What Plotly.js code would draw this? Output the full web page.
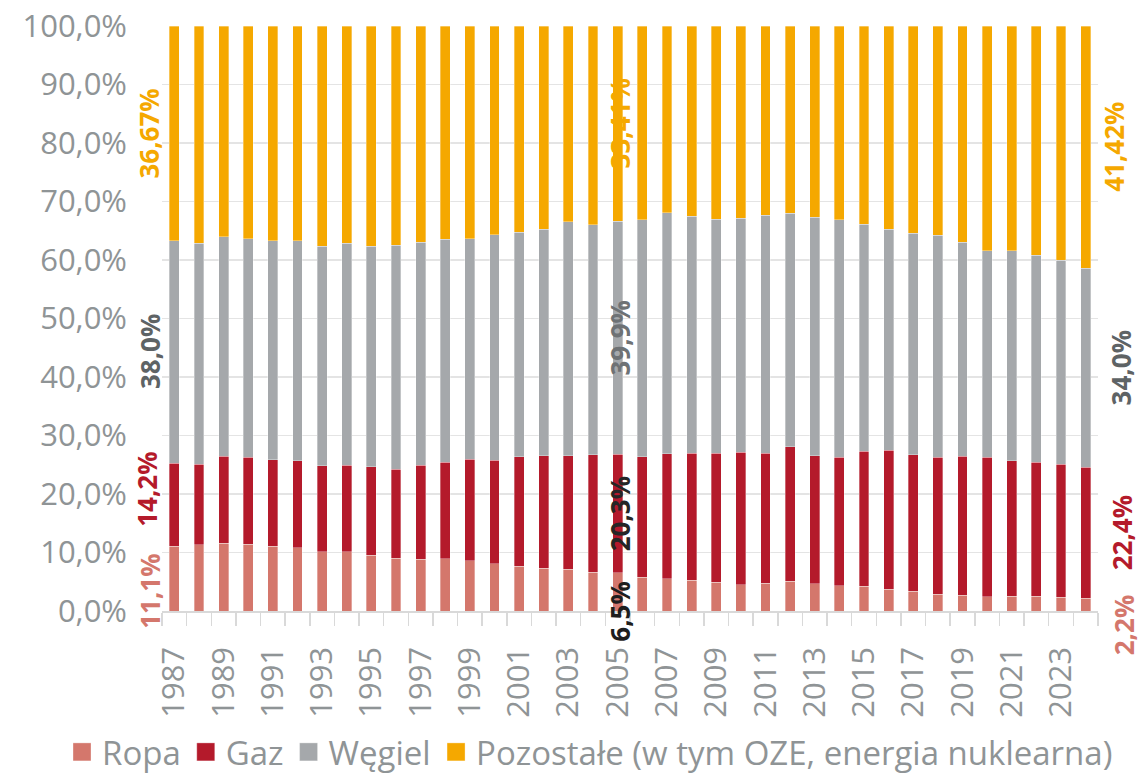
<!DOCTYPE html>
<html>
<head>
<meta charset="utf-8">
<script src="https://cdn.plot.ly/plotly-3.0.1.min.js"></script>
<style>
html,body{margin:0;padding:0;background:#fff;}
#chart{width:1140px;height:776px;}
</style>
</head>
<body>
<div id="chart"></div>
<script>
// ---- data ----
const years = [1987,1988,1989,1990,1991,1992,1993,1994,1995,1996,1997,1998,1999,2000,2001,2002,2003,2004,2005,2006,2007,2008,2009,2010,2011,2012,2013,2014,2015,2016,2017,2018,2019,2020,2021,2022,2023,2024];
const ropa = [11.1,11.35,11.6,11.45,11.05,10.85,10.15,10.15,9.5,9.05,8.85,8.95,8.55,8.05,7.65,7.35,7.15,6.65,6.5,5.75,5.55,5.25,4.95,4.45,4.75,5.05,4.65,4.35,4.25,3.75,3.35,2.85,2.7,2.45,2.55,2.55,2.35,2.2];
const gaz = [14.2,13.75,14.85,14.85,14.8,14.8,14.7,14.8,15.15,15.2,16.1,16.5,17.4,17.7,18.7,19.2,19.4,20.05,20.3,20.6,21.3,21.7,22.0,22.7,22.2,23.0,21.9,21.95,23.1,23.75,23.35,23.45,23.75,23.85,23.1,22.9,22.7,22.4];
const wegiel = [38.03,37.75,37.5,37.35,37.4,37.65,37.5,37.9,37.7,38.3,38.1,38.1,37.7,38.6,38.4,38.7,40.0,39.35,39.79,40.5,41.2,40.5,40.05,40.0,40.7,39.9,40.8,40.55,38.8,37.8,37.9,37.9,36.55,35.25,35.9,35.35,34.9,33.98];
const pozostale = [36.67,37.15,36.05,36.35,36.75,36.7,37.65,37.15,37.65,37.45,36.95,36.45,36.35,35.65,35.25,34.75,33.45,33.95,33.41,33.15,31.95,32.55,33.0,32.85,32.35,32.05,32.65,33.15,33.85,34.7,35.4,35.8,37.0,38.45,38.45,39.2,40.05,41.42];

const seriesNames = ['Ropa','Gaz','Węgiel','Pozostałe (w tym OZE, energia nuklearna)'];
const tickYears = [1987,1989,1991,1993,1995,1997,1999,2001,2003,2005,2007,2009,2011,2013,2015,2017,2019,2021,2023];

// data labels shown for selected years
const labelYears = [1987, 2005, 2024];
const ropaLabels = ['11,1%','6,5%','2,2%'];
const gazLabels = ['14,2%','20,3%','22,4%'];
const wegielLabels = ['38,0%','39,9%','34,0%'];
const pozostaleLabels = ['36,67%','33,41%','41,42%'];

// ---- styles ----
const colors = ['#D4776C','#B41A2B','#A5A8AB','#F5A800'];
const legendIds = ['legend','legend','legend','legend2'];
const tickGray = '#8F9496';
const FONT = 'Open Sans, sans-serif';

const allSeries = [ropa, gaz, wegiel, pozostale];
const traces = allSeries.map((vals, i) => ({
  type: 'bar',
  x: years,
  y: vals,
  name: seriesNames[i],
  legend: legendIds[i],
  marker: {color: colors[i], line: {color: 'rgba(255,255,255,0.55)', width: 0.6}},
  hoverinfo: 'x+y+name'
}));

// label styling per year-column: xshift and colours
const colXshift = [-25, 2, 36];
const labelColors = [
  ['#D4776C','#1E1E1E','#D4776C'],   // ropa
  ['#B41A2B','#262626','#B41A2B'],   // gaz
  ['#5E6365','#6E7275','#5E6365'],   // wegiel
  ['#F5A800','#F5A800','#F5A800']    // pozostale
];
const labelYshift = [
  [-13,-19,-20],
  [15,0,0],
  [0,0,0],
  [0,0,0]
];
const labelXextra = [
  [0,0,2],
  [-3,0,0],
  [0,0,-1],
  [0,0,-8]
];
const allLabels = [ropaLabels, gazLabels, wegielLabels, pozostaleLabels];

const annotations = [];
labelYears.forEach((yr, j) => {
  const idx = years.indexOf(yr);
  let base = 0;
  allSeries.forEach((vals, s) => {
    const mid = base + vals[idx] / 2;
    base += vals[idx];
    annotations.push({
      x: yr, y: mid, xref: 'x', yref: 'y',
      text: '<b>' + allLabels[s][j] + '</b>',
      showarrow: false, textangle: -90,
      xanchor: 'center', yanchor: 'middle',
      xshift: colXshift[j] + labelXextra[s][j],
      yshift: labelYshift[s][j],
      font: {family: FONT, size: 26, color: labelColors[s][j]}
    });
  });
});

const legendCommon = {
  orientation: 'h', xref: 'container', yref: 'container',
  xanchor: 'left', y: 0.031, yanchor: 'middle',
  bgcolor: 'rgba(0,0,0,0)',
  font: {family: FONT, size: 33, color: tickGray},
  itemwidth: 30, tracegroupgap: 0, traceorder: 'normal'
};

const layout = {
  width: 1140, height: 776,
  paper_bgcolor: '#ffffff', plot_bgcolor: '#ffffff',
  margin: {l: 162, r: 42, t: 26, b: 165},
  barmode: 'stack',
  bargap: 0.6,
  separators: ', ',
  font: {family: FONT, color: tickGray},
  showlegend: true,
  legend: Object.assign({}, legendCommon, {x: 0.0544}),
  legend2: Object.assign({}, legendCommon, {x: 0.3825}),
  xaxis: {
    type: 'linear',
    range: [1986.5, 2024.5],
    tickmode: 'array', tickvals: tickYears, ticktext: tickYears.map(String),
    tickangle: -90,
    ticks: '',
    ticklabelstandoff: 22,
    tickfont: {family: FONT, size: 31, color: tickGray},
    showgrid: false, zeroline: false,
    showline: true, linecolor: '#D9D9D9', linewidth: 1.5,
    minor: {ticks: 'outside', tick0: 1986.5, dtick: 1, ticklen: 13, tickcolor: '#D9D9D9', tickwidth: 1.5, showgrid: false}
  },
  yaxis: {
    range: [0, 100],
    tickmode: 'linear', tick0: 0, dtick: 10,
    tickformat: '.1f', ticksuffix: '%',
    tickfont: {family: FONT, size: 31, color: tickGray},
    ticklabelstandoff: 34,
    showgrid: true, gridcolor: '#E4E4E4', gridwidth: 1.5,
    zeroline: false, showline: false
  },
  annotations: annotations
};

Plotly.newPlot('chart', traces, layout, {displayModeBar: false, staticPlot: true}).then(() => {
  // enlarge legend swatches to match the reference squares
  document.querySelectorAll('.legendpoints path').forEach(p => {
    p.setAttribute('d', 'M9,9H-9V-9H9Z');
  });
});
</script>
</body>
</html>
